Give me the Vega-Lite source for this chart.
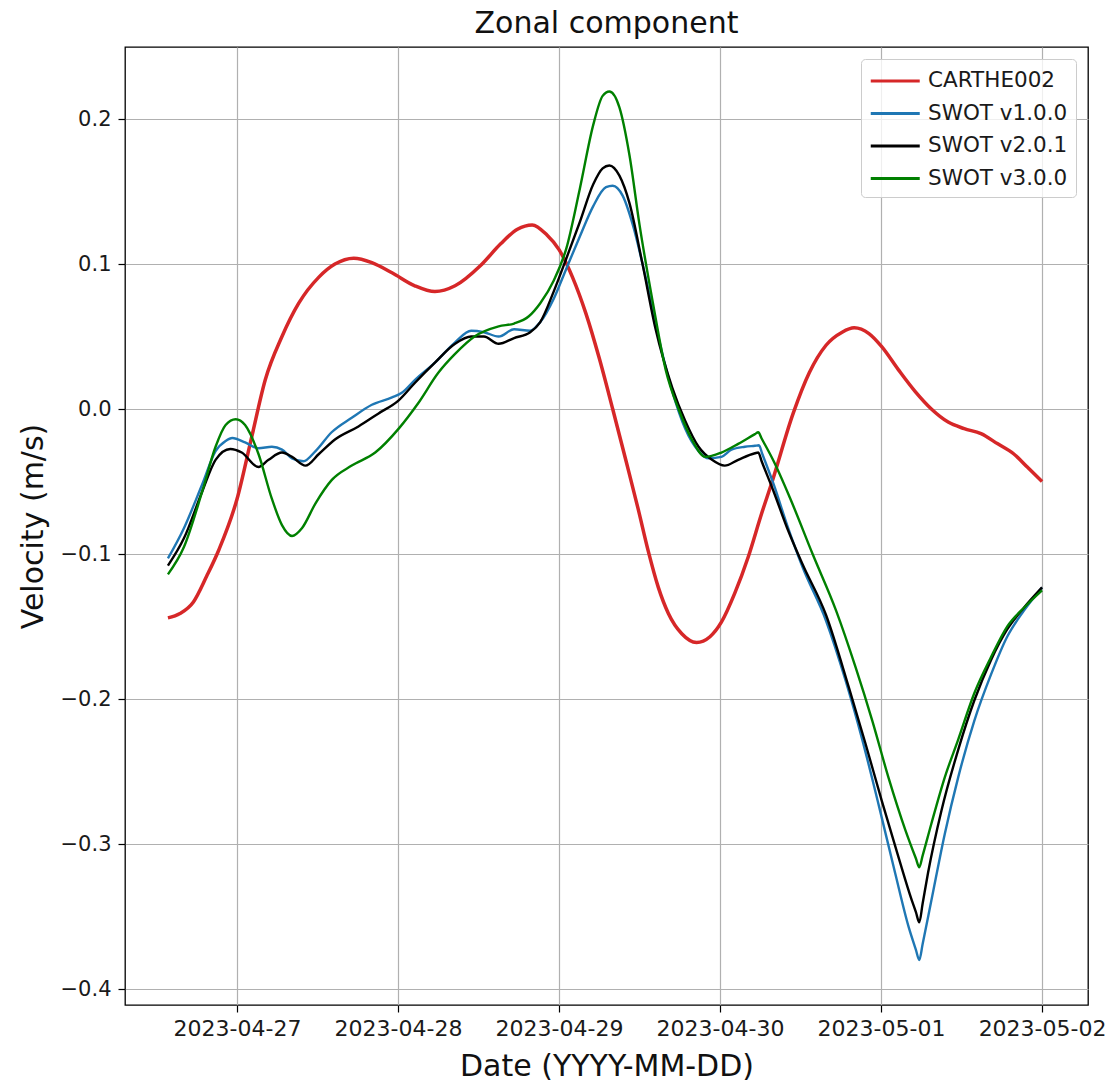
{
  "$schema": "https://vega.github.io/schema/vega-lite/v6.json",
  "width": 963,
  "height": 958,
  "autosize": {"type": "none"},
  "padding": {"left": 125, "top": 47, "right": 21, "bottom": 76},
  "background": "white",
  "title": {
    "text": "Zonal component",
    "font": "DejaVu Sans",
    "fontSize": 30,
    "fontWeight": "normal",
    "color": "#111111",
    "anchor": "middle",
    "frame": "group",
    "baseline": "alphabetic",
    "offset": 13,
    "dy": 29
  },
  "config": {
    "font": "DejaVu Sans",
    "view": {"stroke": "#000000", "strokeWidth": 1.3},
    "axis": {
      "labelFont": "DejaVu Sans",
      "titleFont": "DejaVu Sans",
      "labelColor": "#1a1a1a",
      "titleColor": "#111111",
      "titleFontWeight": "normal",
      "grid": true,
      "gridColor": "#b0b0b0",
      "gridWidth": 1.2,
      "domain": false,
      "tickColor": "#000000",
      "tickWidth": 1.2,
      "tickSize": 7
    },
    "legend": {
      "labelFont": "DejaVu Sans",
      "labelColor": "#1a1a1a"
    }
  },
  "datasets": {
    "drifter": [
      {"series": "CARTHE002", "time": "2023-04-26T13:42", "velocity": -0.144},
      {"series": "CARTHE002", "time": "2023-04-26T15:30", "velocity": -0.141},
      {"series": "CARTHE002", "time": "2023-04-26T17:30", "velocity": -0.133},
      {"series": "CARTHE002", "time": "2023-04-26T19:30", "velocity": -0.115},
      {"series": "CARTHE002", "time": "2023-04-26T21:18", "velocity": -0.097},
      {"series": "CARTHE002", "time": "2023-04-27T00:00", "velocity": -0.062},
      {"series": "CARTHE002", "time": "2023-04-27T02:12", "velocity": -0.019},
      {"series": "CARTHE002", "time": "2023-04-27T04:12", "velocity": 0.020},
      {"series": "CARTHE002", "time": "2023-04-27T06:42", "velocity": 0.050},
      {"series": "CARTHE002", "time": "2023-04-27T09:12", "velocity": 0.073},
      {"series": "CARTHE002", "time": "2023-04-27T12:12", "velocity": 0.091},
      {"series": "CARTHE002", "time": "2023-04-27T14:36", "velocity": 0.100},
      {"series": "CARTHE002", "time": "2023-04-27T17:24", "velocity": 0.104},
      {"series": "CARTHE002", "time": "2023-04-27T20:06", "velocity": 0.101},
      {"series": "CARTHE002", "time": "2023-04-27T23:06", "velocity": 0.094},
      {"series": "CARTHE002", "time": "2023-04-28T02:30", "velocity": 0.085},
      {"series": "CARTHE002", "time": "2023-04-28T05:30", "velocity": 0.081},
      {"series": "CARTHE002", "time": "2023-04-28T08:30", "velocity": 0.085},
      {"series": "CARTHE002", "time": "2023-04-28T12:18", "velocity": 0.099},
      {"series": "CARTHE002", "time": "2023-04-28T15:18", "velocity": 0.114},
      {"series": "CARTHE002", "time": "2023-04-28T17:48", "velocity": 0.124},
      {"series": "CARTHE002", "time": "2023-04-28T20:00", "velocity": 0.127},
      {"series": "CARTHE002", "time": "2023-04-28T22:12", "velocity": 0.120},
      {"series": "CARTHE002", "time": "2023-04-29T00:00", "velocity": 0.110},
      {"series": "CARTHE002", "time": "2023-04-29T02:00", "velocity": 0.091},
      {"series": "CARTHE002", "time": "2023-04-29T04:00", "velocity": 0.066},
      {"series": "CARTHE002", "time": "2023-04-29T06:00", "velocity": 0.035},
      {"series": "CARTHE002", "time": "2023-04-29T08:00", "velocity": 0.000},
      {"series": "CARTHE002", "time": "2023-04-29T10:00", "velocity": -0.036},
      {"series": "CARTHE002", "time": "2023-04-29T11:48", "velocity": -0.069},
      {"series": "CARTHE002", "time": "2023-04-29T13:18", "velocity": -0.098},
      {"series": "CARTHE002", "time": "2023-04-29T14:48", "velocity": -0.123},
      {"series": "CARTHE002", "time": "2023-04-29T16:18", "velocity": -0.141},
      {"series": "CARTHE002", "time": "2023-04-29T18:18", "velocity": -0.155},
      {"series": "CARTHE002", "time": "2023-04-29T20:30", "velocity": -0.161},
      {"series": "CARTHE002", "time": "2023-04-29T22:30", "velocity": -0.157},
      {"series": "CARTHE002", "time": "2023-04-30T00:12", "velocity": -0.147},
      {"series": "CARTHE002", "time": "2023-04-30T02:12", "velocity": -0.127},
      {"series": "CARTHE002", "time": "2023-04-30T04:12", "velocity": -0.102},
      {"series": "CARTHE002", "time": "2023-04-30T06:12", "velocity": -0.072},
      {"series": "CARTHE002", "time": "2023-04-30T07:42", "velocity": -0.051},
      {"series": "CARTHE002", "time": "2023-04-30T10:54", "velocity": -0.003},
      {"series": "CARTHE002", "time": "2023-04-30T13:18", "velocity": 0.025},
      {"series": "CARTHE002", "time": "2023-04-30T15:48", "velocity": 0.044},
      {"series": "CARTHE002", "time": "2023-04-30T18:12", "velocity": 0.053},
      {"series": "CARTHE002", "time": "2023-04-30T20:00", "velocity": 0.056},
      {"series": "CARTHE002", "time": "2023-04-30T22:12", "velocity": 0.052},
      {"series": "CARTHE002", "time": "2023-05-01T00:06", "velocity": 0.043},
      {"series": "CARTHE002", "time": "2023-05-01T02:36", "velocity": 0.027},
      {"series": "CARTHE002", "time": "2023-05-01T05:06", "velocity": 0.012},
      {"series": "CARTHE002", "time": "2023-05-01T07:30", "velocity": 0.000},
      {"series": "CARTHE002", "time": "2023-05-01T10:00", "velocity": -0.009},
      {"series": "CARTHE002", "time": "2023-05-01T12:24", "velocity": -0.0135},
      {"series": "CARTHE002", "time": "2023-05-01T14:54", "velocity": -0.017},
      {"series": "CARTHE002", "time": "2023-05-01T17:24", "velocity": -0.024},
      {"series": "CARTHE002", "time": "2023-05-01T19:48", "velocity": -0.031},
      {"series": "CARTHE002", "time": "2023-05-01T21:48", "velocity": -0.040},
      {"series": "CARTHE002", "time": "2023-05-02T00:00", "velocity": -0.050}
    ],
    "swot": [
      {"series": "SWOT v1.0.0", "time": "2023-04-26T13:42", "velocity": -0.103},
      {"series": "SWOT v1.0.0", "time": "2023-04-26T16:06", "velocity": -0.082},
      {"series": "SWOT v1.0.0", "time": "2023-04-26T18:48", "velocity": -0.052},
      {"series": "SWOT v1.0.0", "time": "2023-04-26T20:48", "velocity": -0.029},
      {"series": "SWOT v1.0.0", "time": "2023-04-26T22:18", "velocity": -0.022},
      {"series": "SWOT v1.0.0", "time": "2023-04-26T23:18", "velocity": -0.020},
      {"series": "SWOT v1.0.0", "time": "2023-04-27T01:12", "velocity": -0.023},
      {"series": "SWOT v1.0.0", "time": "2023-04-27T03:12", "velocity": -0.027},
      {"series": "SWOT v1.0.0", "time": "2023-04-27T05:12", "velocity": -0.026},
      {"series": "SWOT v1.0.0", "time": "2023-04-27T06:42", "velocity": -0.028},
      {"series": "SWOT v1.0.0", "time": "2023-04-27T08:12", "velocity": -0.034},
      {"series": "SWOT v1.0.0", "time": "2023-04-27T09:54", "velocity": -0.036},
      {"series": "SWOT v1.0.0", "time": "2023-04-27T11:42", "velocity": -0.029},
      {"series": "SWOT v1.0.0", "time": "2023-04-27T14:06", "velocity": -0.016},
      {"series": "SWOT v1.0.0", "time": "2023-04-27T17:06", "velocity": -0.006},
      {"series": "SWOT v1.0.0", "time": "2023-04-27T20:06", "velocity": 0.003},
      {"series": "SWOT v1.0.0", "time": "2023-04-27T23:06", "velocity": 0.008},
      {"series": "SWOT v1.0.0", "time": "2023-04-28T00:30", "velocity": 0.011},
      {"series": "SWOT v1.0.0", "time": "2023-04-28T02:30", "velocity": 0.020},
      {"series": "SWOT v1.0.0", "time": "2023-04-28T05:30", "velocity": 0.032},
      {"series": "SWOT v1.0.0", "time": "2023-04-28T08:30", "velocity": 0.046},
      {"series": "SWOT v1.0.0", "time": "2023-04-28T10:54", "velocity": 0.054},
      {"series": "SWOT v1.0.0", "time": "2023-04-28T12:48", "velocity": 0.053},
      {"series": "SWOT v1.0.0", "time": "2023-04-28T15:00", "velocity": 0.050},
      {"series": "SWOT v1.0.0", "time": "2023-04-28T17:18", "velocity": 0.055},
      {"series": "SWOT v1.0.0", "time": "2023-04-28T19:42", "velocity": 0.054},
      {"series": "SWOT v1.0.0", "time": "2023-04-28T21:12", "velocity": 0.060},
      {"series": "SWOT v1.0.0", "time": "2023-04-28T23:12", "velocity": 0.076},
      {"series": "SWOT v1.0.0", "time": "2023-04-29T01:06", "velocity": 0.097},
      {"series": "SWOT v1.0.0", "time": "2023-04-29T03:06", "velocity": 0.119},
      {"series": "SWOT v1.0.0", "time": "2023-04-29T05:06", "velocity": 0.140},
      {"series": "SWOT v1.0.0", "time": "2023-04-29T07:00", "velocity": 0.153},
      {"series": "SWOT v1.0.0", "time": "2023-04-29T08:00", "velocity": 0.154},
      {"series": "SWOT v1.0.0", "time": "2023-04-29T09:30", "velocity": 0.147},
      {"series": "SWOT v1.0.0", "time": "2023-04-29T11:00", "velocity": 0.127},
      {"series": "SWOT v1.0.0", "time": "2023-04-29T12:54", "velocity": 0.091},
      {"series": "SWOT v1.0.0", "time": "2023-04-29T14:54", "velocity": 0.048},
      {"series": "SWOT v1.0.0", "time": "2023-04-29T16:54", "velocity": 0.012},
      {"series": "SWOT v1.0.0", "time": "2023-04-29T18:48", "velocity": -0.0135},
      {"series": "SWOT v1.0.0", "time": "2023-04-29T20:48", "velocity": -0.029},
      {"series": "SWOT v1.0.0", "time": "2023-04-29T22:18", "velocity": -0.034},
      {"series": "SWOT v1.0.0", "time": "2023-04-30T00:12", "velocity": -0.033},
      {"series": "SWOT v1.0.0", "time": "2023-04-30T01:42", "velocity": -0.028},
      {"series": "SWOT v1.0.0", "time": "2023-04-30T03:42", "velocity": -0.026},
      {"series": "SWOT v1.0.0", "time": "2023-04-30T05:12", "velocity": -0.0253},
      {"series": "SWOT v1.0.0", "time": "2023-04-30T05:48", "velocity": -0.025},
      {"series": "SWOT v1.0.0", "time": "2023-04-30T06:18", "velocity": -0.031},
      {"series": "SWOT v1.0.0", "time": "2023-04-30T08:00", "velocity": -0.052},
      {"series": "SWOT v1.0.0", "time": "2023-04-30T10:00", "velocity": -0.080},
      {"series": "SWOT v1.0.0", "time": "2023-04-30T12:18", "velocity": -0.109},
      {"series": "SWOT v1.0.0", "time": "2023-04-30T15:48", "velocity": -0.146},
      {"series": "SWOT v1.0.0", "time": "2023-04-30T18:42", "velocity": -0.187},
      {"series": "SWOT v1.0.0", "time": "2023-04-30T21:12", "velocity": -0.228},
      {"series": "SWOT v1.0.0", "time": "2023-04-30T23:42", "velocity": -0.274},
      {"series": "SWOT v1.0.0", "time": "2023-05-01T02:06", "velocity": -0.320},
      {"series": "SWOT v1.0.0", "time": "2023-05-01T04:06", "velocity": -0.357},
      {"series": "SWOT v1.0.0", "time": "2023-05-01T05:12", "velocity": -0.373},
      {"series": "SWOT v1.0.0", "time": "2023-05-01T05:42", "velocity": -0.380},
      {"series": "SWOT v1.0.0", "time": "2023-05-01T06:12", "velocity": -0.369},
      {"series": "SWOT v1.0.0", "time": "2023-05-01T07:30", "velocity": -0.339},
      {"series": "SWOT v1.0.0", "time": "2023-05-01T09:30", "velocity": -0.293},
      {"series": "SWOT v1.0.0", "time": "2023-05-01T11:30", "velocity": -0.254},
      {"series": "SWOT v1.0.0", "time": "2023-05-01T13:54", "velocity": -0.215},
      {"series": "SWOT v1.0.0", "time": "2023-05-01T16:24", "velocity": -0.183},
      {"series": "SWOT v1.0.0", "time": "2023-05-01T18:48", "velocity": -0.157},
      {"series": "SWOT v1.0.0", "time": "2023-05-01T21:18", "velocity": -0.139},
      {"series": "SWOT v1.0.0", "time": "2023-05-02T00:00", "velocity": -0.123},

      {"series": "SWOT v2.0.1", "time": "2023-04-26T13:42", "velocity": -0.108},
      {"series": "SWOT v2.0.1", "time": "2023-04-26T16:06", "velocity": -0.089},
      {"series": "SWOT v2.0.1", "time": "2023-04-26T18:48", "velocity": -0.057},
      {"series": "SWOT v2.0.1", "time": "2023-04-26T20:48", "velocity": -0.035},
      {"series": "SWOT v2.0.1", "time": "2023-04-26T23:00", "velocity": -0.0275},
      {"series": "SWOT v2.0.1", "time": "2023-04-27T00:42", "velocity": -0.030},
      {"series": "SWOT v2.0.1", "time": "2023-04-27T03:12", "velocity": -0.040},
      {"series": "SWOT v2.0.1", "time": "2023-04-27T04:42", "velocity": -0.035},
      {"series": "SWOT v2.0.1", "time": "2023-04-27T06:42", "velocity": -0.030},
      {"series": "SWOT v2.0.1", "time": "2023-04-27T08:12", "velocity": -0.033},
      {"series": "SWOT v2.0.1", "time": "2023-04-27T10:12", "velocity": -0.039},
      {"series": "SWOT v2.0.1", "time": "2023-04-27T12:12", "velocity": -0.031},
      {"series": "SWOT v2.0.1", "time": "2023-04-27T14:36", "velocity": -0.021},
      {"series": "SWOT v2.0.1", "time": "2023-04-27T18:06", "velocity": -0.012},
      {"series": "SWOT v2.0.1", "time": "2023-04-27T21:06", "velocity": -0.003},
      {"series": "SWOT v2.0.1", "time": "2023-04-28T00:06", "velocity": 0.006},
      {"series": "SWOT v2.0.1", "time": "2023-04-28T02:30", "velocity": 0.018},
      {"series": "SWOT v2.0.1", "time": "2023-04-28T05:30", "velocity": 0.032},
      {"series": "SWOT v2.0.1", "time": "2023-04-28T08:30", "velocity": 0.045},
      {"series": "SWOT v2.0.1", "time": "2023-04-28T10:54", "velocity": 0.050},
      {"series": "SWOT v2.0.1", "time": "2023-04-28T12:48", "velocity": 0.050},
      {"series": "SWOT v2.0.1", "time": "2023-04-28T15:00", "velocity": 0.045},
      {"series": "SWOT v2.0.1", "time": "2023-04-28T17:18", "velocity": 0.049},
      {"series": "SWOT v2.0.1", "time": "2023-04-28T19:42", "velocity": 0.053},
      {"series": "SWOT v2.0.1", "time": "2023-04-28T21:12", "velocity": 0.060},
      {"series": "SWOT v2.0.1", "time": "2023-04-28T23:12", "velocity": 0.081},
      {"series": "SWOT v2.0.1", "time": "2023-04-29T01:06", "velocity": 0.104},
      {"series": "SWOT v2.0.1", "time": "2023-04-29T03:06", "velocity": 0.129},
      {"series": "SWOT v2.0.1", "time": "2023-04-29T05:06", "velocity": 0.155},
      {"series": "SWOT v2.0.1", "time": "2023-04-29T06:30", "velocity": 0.166},
      {"series": "SWOT v2.0.1", "time": "2023-04-29T07:30", "velocity": 0.168},
      {"series": "SWOT v2.0.1", "time": "2023-04-29T09:00", "velocity": 0.161},
      {"series": "SWOT v2.0.1", "time": "2023-04-29T10:30", "velocity": 0.142},
      {"series": "SWOT v2.0.1", "time": "2023-04-29T12:24", "velocity": 0.101},
      {"series": "SWOT v2.0.1", "time": "2023-04-29T14:24", "velocity": 0.055},
      {"series": "SWOT v2.0.1", "time": "2023-04-29T16:54", "velocity": 0.0145},
      {"series": "SWOT v2.0.1", "time": "2023-04-29T18:48", "velocity": -0.008},
      {"series": "SWOT v2.0.1", "time": "2023-04-29T20:48", "velocity": -0.026},
      {"series": "SWOT v2.0.1", "time": "2023-04-29T22:48", "velocity": -0.035},
      {"series": "SWOT v2.0.1", "time": "2023-04-30T00:42", "velocity": -0.039},
      {"series": "SWOT v2.0.1", "time": "2023-04-30T02:42", "velocity": -0.035},
      {"series": "SWOT v2.0.1", "time": "2023-04-30T05:12", "velocity": -0.0305},
      {"series": "SWOT v2.0.1", "time": "2023-04-30T05:42", "velocity": -0.030},
      {"series": "SWOT v2.0.1", "time": "2023-04-30T06:12", "velocity": -0.036},
      {"series": "SWOT v2.0.1", "time": "2023-04-30T08:00", "velocity": -0.057},
      {"series": "SWOT v2.0.1", "time": "2023-04-30T10:00", "velocity": -0.082},
      {"series": "SWOT v2.0.1", "time": "2023-04-30T12:18", "velocity": -0.107},
      {"series": "SWOT v2.0.1", "time": "2023-04-30T15:48", "velocity": -0.142},
      {"series": "SWOT v2.0.1", "time": "2023-04-30T19:12", "velocity": -0.192},
      {"series": "SWOT v2.0.1", "time": "2023-04-30T21:42", "velocity": -0.231},
      {"series": "SWOT v2.0.1", "time": "2023-05-01T00:06", "velocity": -0.270},
      {"series": "SWOT v2.0.1", "time": "2023-05-01T02:36", "velocity": -0.309},
      {"series": "SWOT v2.0.1", "time": "2023-05-01T04:36", "velocity": -0.339},
      {"series": "SWOT v2.0.1", "time": "2023-05-01T05:12", "velocity": -0.347},
      {"series": "SWOT v2.0.1", "time": "2023-05-01T05:42", "velocity": -0.354},
      {"series": "SWOT v2.0.1", "time": "2023-05-01T06:12", "velocity": -0.341},
      {"series": "SWOT v2.0.1", "time": "2023-05-01T07:00", "velocity": -0.320},
      {"series": "SWOT v2.0.1", "time": "2023-05-01T09:00", "velocity": -0.277},
      {"series": "SWOT v2.0.1", "time": "2023-05-01T11:30", "velocity": -0.235},
      {"series": "SWOT v2.0.1", "time": "2023-05-01T13:54", "velocity": -0.201},
      {"series": "SWOT v2.0.1", "time": "2023-05-01T16:24", "velocity": -0.173},
      {"series": "SWOT v2.0.1", "time": "2023-05-01T18:48", "velocity": -0.152},
      {"series": "SWOT v2.0.1", "time": "2023-05-01T21:18", "velocity": -0.137},
      {"series": "SWOT v2.0.1", "time": "2023-05-02T00:00", "velocity": -0.123},

      {"series": "SWOT v3.0.0", "time": "2023-04-26T13:42", "velocity": -0.114},
      {"series": "SWOT v3.0.0", "time": "2023-04-26T16:06", "velocity": -0.095},
      {"series": "SWOT v3.0.0", "time": "2023-04-26T18:48", "velocity": -0.057},
      {"series": "SWOT v3.0.0", "time": "2023-04-26T20:48", "velocity": -0.026},
      {"series": "SWOT v3.0.0", "time": "2023-04-26T22:18", "velocity": -0.011},
      {"series": "SWOT v3.0.0", "time": "2023-04-26T23:48", "velocity": -0.007},
      {"series": "SWOT v3.0.0", "time": "2023-04-27T01:12", "velocity": -0.011},
      {"series": "SWOT v3.0.0", "time": "2023-04-27T03:12", "velocity": -0.031},
      {"series": "SWOT v3.0.0", "time": "2023-04-27T05:12", "velocity": -0.062},
      {"series": "SWOT v3.0.0", "time": "2023-04-27T06:42", "velocity": -0.080},
      {"series": "SWOT v3.0.0", "time": "2023-04-27T08:12", "velocity": -0.0875},
      {"series": "SWOT v3.0.0", "time": "2023-04-27T09:42", "velocity": -0.082},
      {"series": "SWOT v3.0.0", "time": "2023-04-27T11:42", "velocity": -0.065},
      {"series": "SWOT v3.0.0", "time": "2023-04-27T14:06", "velocity": -0.049},
      {"series": "SWOT v3.0.0", "time": "2023-04-27T17:06", "velocity": -0.039},
      {"series": "SWOT v3.0.0", "time": "2023-04-27T20:36", "velocity": -0.030},
      {"series": "SWOT v3.0.0", "time": "2023-04-28T00:06", "velocity": -0.0135},
      {"series": "SWOT v3.0.0", "time": "2023-04-28T03:00", "velocity": 0.004},
      {"series": "SWOT v3.0.0", "time": "2023-04-28T06:00", "velocity": 0.025},
      {"series": "SWOT v3.0.0", "time": "2023-04-28T08:30", "velocity": 0.038},
      {"series": "SWOT v3.0.0", "time": "2023-04-28T11:24", "velocity": 0.050},
      {"series": "SWOT v3.0.0", "time": "2023-04-28T15:00", "velocity": 0.057},
      {"series": "SWOT v3.0.0", "time": "2023-04-28T17:18", "velocity": 0.059},
      {"series": "SWOT v3.0.0", "time": "2023-04-28T19:30", "velocity": 0.064},
      {"series": "SWOT v3.0.0", "time": "2023-04-28T21:12", "velocity": 0.073},
      {"series": "SWOT v3.0.0", "time": "2023-04-28T23:12", "velocity": 0.0885},
      {"series": "SWOT v3.0.0", "time": "2023-04-29T01:06", "velocity": 0.111},
      {"series": "SWOT v3.0.0", "time": "2023-04-29T03:06", "velocity": 0.152},
      {"series": "SWOT v3.0.0", "time": "2023-04-29T05:06", "velocity": 0.196},
      {"series": "SWOT v3.0.0", "time": "2023-04-29T06:30", "velocity": 0.216},
      {"series": "SWOT v3.0.0", "time": "2023-04-29T07:30", "velocity": 0.219},
      {"series": "SWOT v3.0.0", "time": "2023-04-29T09:00", "velocity": 0.208},
      {"series": "SWOT v3.0.0", "time": "2023-04-29T10:30", "velocity": 0.175},
      {"series": "SWOT v3.0.0", "time": "2023-04-29T12:00", "velocity": 0.127},
      {"series": "SWOT v3.0.0", "time": "2023-04-29T14:00", "velocity": 0.073},
      {"series": "SWOT v3.0.0", "time": "2023-04-29T15:54", "velocity": 0.027},
      {"series": "SWOT v3.0.0", "time": "2023-04-29T17:54", "velocity": -0.001},
      {"series": "SWOT v3.0.0", "time": "2023-04-29T19:48", "velocity": -0.021},
      {"series": "SWOT v3.0.0", "time": "2023-04-29T21:48", "velocity": -0.033},
      {"series": "SWOT v3.0.0", "time": "2023-04-30T00:12", "velocity": -0.030},
      {"series": "SWOT v3.0.0", "time": "2023-04-30T02:42", "velocity": -0.024},
      {"series": "SWOT v3.0.0", "time": "2023-04-30T05:12", "velocity": -0.0173},
      {"series": "SWOT v3.0.0", "time": "2023-04-30T05:42", "velocity": -0.016},
      {"series": "SWOT v3.0.0", "time": "2023-04-30T06:12", "velocity": -0.0203},
      {"series": "SWOT v3.0.0", "time": "2023-04-30T08:00", "velocity": -0.036},
      {"series": "SWOT v3.0.0", "time": "2023-04-30T10:24", "velocity": -0.061},
      {"series": "SWOT v3.0.0", "time": "2023-04-30T13:48", "velocity": -0.100},
      {"series": "SWOT v3.0.0", "time": "2023-04-30T17:18", "velocity": -0.139},
      {"series": "SWOT v3.0.0", "time": "2023-04-30T20:12", "velocity": -0.178},
      {"series": "SWOT v3.0.0", "time": "2023-04-30T22:42", "velocity": -0.215},
      {"series": "SWOT v3.0.0", "time": "2023-05-01T01:06", "velocity": -0.254},
      {"series": "SWOT v3.0.0", "time": "2023-05-01T03:36", "velocity": -0.290},
      {"series": "SWOT v3.0.0", "time": "2023-05-01T05:12", "velocity": -0.310},
      {"series": "SWOT v3.0.0", "time": "2023-05-01T05:42", "velocity": -0.316},
      {"series": "SWOT v3.0.0", "time": "2023-05-01T06:12", "velocity": -0.308},
      {"series": "SWOT v3.0.0", "time": "2023-05-01T07:30", "velocity": -0.286},
      {"series": "SWOT v3.0.0", "time": "2023-05-01T09:30", "velocity": -0.254},
      {"series": "SWOT v3.0.0", "time": "2023-05-01T11:30", "velocity": -0.228},
      {"series": "SWOT v3.0.0", "time": "2023-05-01T13:54", "velocity": -0.196},
      {"series": "SWOT v3.0.0", "time": "2023-05-01T16:24", "velocity": -0.171},
      {"series": "SWOT v3.0.0", "time": "2023-05-01T18:48", "velocity": -0.150},
      {"series": "SWOT v3.0.0", "time": "2023-05-01T21:18", "velocity": -0.137},
      {"series": "SWOT v3.0.0", "time": "2023-05-02T00:00", "velocity": -0.125}
    ]
  },
  "encoding": {
    "x": {
      "field": "time",
      "type": "temporal",
      "scale": {
        "domain": [
          {"year": 2023, "month": 4, "date": 26, "hours": 7, "minutes": 18},
          {"year": 2023, "month": 5, "date": 2, "hours": 6, "minutes": 51}
        ],
        "nice": false
      },
      "axis": {
        "title": "Date (YYYY-MM-DD)",
        "titleFontSize": 30,
        "titleX": 481.5,
        "titleY": 70,
        "titleBaseline": "alphabetic",
        "titleAlign": "center",
        "labelFontSize": 22,
        "labelPadding": 6,
        "format": "%Y-%m-%d",
        "values": [
          {"year": 2023, "month": 4, "date": 27},
          {"year": 2023, "month": 4, "date": 28},
          {"year": 2023, "month": 4, "date": 29},
          {"year": 2023, "month": 4, "date": 30},
          {"year": 2023, "month": 5, "date": 1},
          {"year": 2023, "month": 5, "date": 2}
        ],
        "labelFlush": false,
        "labelOverlap": false
      }
    },
    "y": {
      "field": "velocity",
      "type": "quantitative",
      "scale": {"domain": [-0.411, 0.2497], "nice": false, "zero": false},
      "axis": {
        "title": "Velocity (m/s)",
        "titleFontSize": 30,
        "titleAngle": -90,
        "titleX": -83,
        "titleY": 479,
        "titleBaseline": "alphabetic",
        "titleAlign": "center",
        "labelFontSize": 21,
        "labelPadding": 7,
        "values": [-0.4, -0.3, -0.2, -0.1, 0.0, 0.1, 0.2],
        "labelExpr": "replace(format(datum.value, '.1f'), '-', '\u2212')",
        "labelFlush": false,
        "labelOverlap": false
      }
    },
    "color": {
      "field": "series",
      "type": "nominal",
      "scale": {
        "domain": ["CARTHE002", "SWOT v1.0.0", "SWOT v2.0.1", "SWOT v3.0.0"],
        "range": ["#d62728", "#1f77b4", "#000000", "#008000"]
      },
      "legend": {
        "title": null,
        "orient": "top-right",
        "offset": 12,
        "symbolType": "M-1,0H3",
        "symbolStrokeWidth": 3,
        "symbolSize": 600,
        "labelFontSize": 21.5,
        "labelOffset": 31,
        "rowPadding": 7.5,
        "padding": 8,
        "fillColor": "rgba(255,255,255,0.8)",
        "strokeColor": "#cccccc",
        "cornerRadius": 4
      }
    }
  },
  "layer": [
    {
      "data": {"name": "drifter"},
      "mark": {"type": "line", "interpolate": "monotone", "strokeWidth": 3.5, "clip": true}
    },
    {
      "data": {"name": "swot"},
      "mark": {"type": "line", "interpolate": "monotone", "strokeWidth": 2.4, "clip": true}
    }
  ]
}
